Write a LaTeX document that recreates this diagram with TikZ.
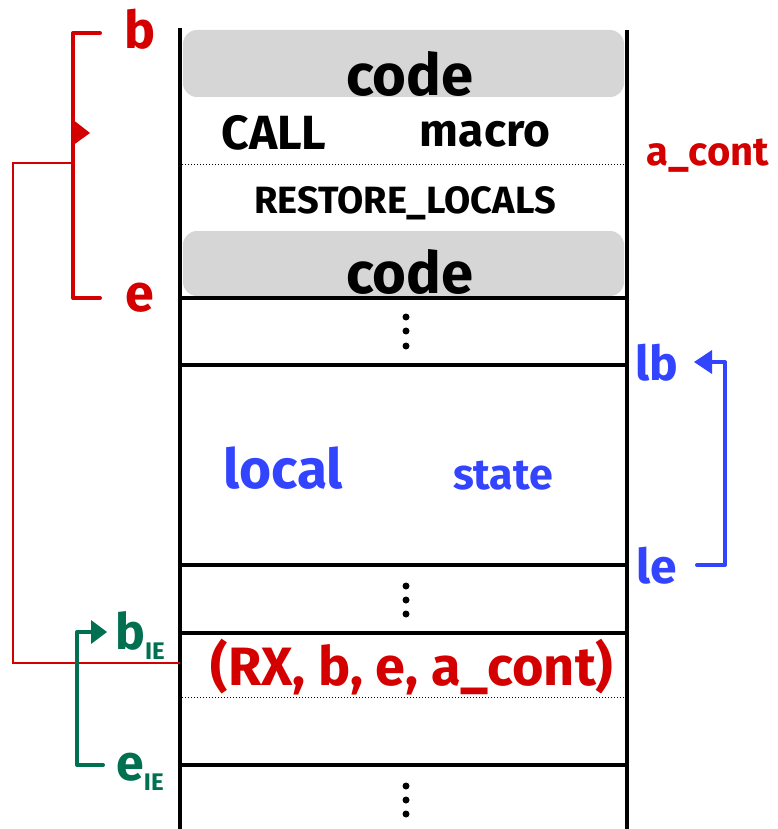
\documentclass[tikz,border=0pt]{standalone}
\usepackage{fontspec}
\setmainfont{Fira Sans}
\usetikzlibrary{arrows.meta}
\definecolor{rd}{HTML}{D40000}
\definecolor{bl}{HTML}{3344FF}
\definecolor{gr}{HTML}{007050}
\definecolor{gy}{HTML}{D6D6D6}
\newcommand{\fs}[1]{\fontsize{#1}{#1}\selectfont}
\begin{document}
\begin{tikzpicture}[x=1pt,y=-1pt,
  wall/.style={line width=4pt,black},
  sep/.style={line width=3.5pt,black},
  dotsep/.style={line width=1pt,dotted,black},
  txt/.style={inner sep=0pt,anchor=center,font=\bfseries},
  vdot/.style={circle,fill=black,inner sep=0pt,minimum size=7pt},
  brk/.style={line width=4pt,line cap=round,line join=round}]
\useasboundingbox (0,0) rectangle (777,829);
% gray code boxes
\fill[gy,rounded corners=14pt] (183,30) rectangle (624,97);
\fill[gy,rounded corners=14pt] (183,231) rectangle (624,296);
% walls
\draw[wall] (180,28) -- (180,829);
\draw[wall] (627,30) -- (627,829);
% separators
\foreach \yy in {298,365,565,633,765}{\draw[sep] (180,\yy) -- (627,\yy);}
\draw[dotsep] (182,165) -- (625,165);
\draw[dotsep] (182,697) -- (625,697);
% texts
\node[txt] (code1) at (410,74) {\fs{58}code};
\node[txt] (call) at (274,133) {\fs{48}CALL};
\node[txt] (macro) at (485,134) {\fs{46}macro};
\node[txt] (restore) at (405,203) {\fs{38}RESTORE\_LOCALS};
\node[txt] (code2) at (410,272) {\fs{58}code};
\node[txt,text=bl] (local) at (283,468) {\fs{55}local};
\node[txt,text=bl] (state) at (503,476) {\fs{43}state};
\node[txt,text=rd] (tuple) at (412,667) {\fs{54}(RX, b, e, a\_cont)};
\node[txt,text=rd] (acont) at (708,156) {\fs{40}a\_cont};
% dots
\foreach \yy/\n in {317/a,331/b,346/c}{\node[vdot] (d1\n) at (406,\yy) {};}
\foreach \yy/\n in {586/a,600/b,614/c}{\node[vdot] (d2\n) at (406,\yy) {};}
\foreach \yy/\n in {786/a,800/b,814/c}{\node[vdot] (d3\n) at (406,\yy) {};}
% red bracket
\node[txt,text=rd] (lb) at (140,29) {\fs{52}b};
\node[txt,text=rd] (le) at (140,298) {\fs{52}e};
\coordinate (rtop) at (100,33);
\coordinate (rbot) at (100,298);
\coordinate (rmid) at (73,163);
\coordinate (tupw) at (180,663);
\draw[brk,rd] (rtop) -- (73,33) -- (73,298) -- (rbot);
\fill[rd] (72,119) -- (90,133) -- (72,146) -- cycle;
\draw[rd,line width=1.5pt] (tupw) -- (13,663) -- (13,163) -- (rmid);
% blue bracket
\node[txt,text=bl] (llb) at (657,363) {\fs{48}lb};
\node[txt,text=bl] (lle) at (657,566) {\fs{48}le};
\coordinate (btip) at (694,362);
\draw[brk,bl] (697,565) -- (725,565) -- (725,362) -- (710,362);
\fill[bl] (btip) -- (712,350) -- (712,374) -- cycle;
% green bracket
\node[txt,text=gr] (bie) at (140,636) {\fs{50}b\raisebox{-10pt}{\fs{24}IE}};
\node[txt,text=gr] (eie) at (140,772) {\fs{50}e\raisebox{-10pt}{\fs{24}IE}};
\coordinate (gtip) at (107,632);
\draw[brk,gr] (103,765) -- (77,765) -- (77,632) -- (93,632);
\fill[gr] (gtip) -- (91,620) -- (91,644) -- cycle;
\end{tikzpicture}
\end{document}
